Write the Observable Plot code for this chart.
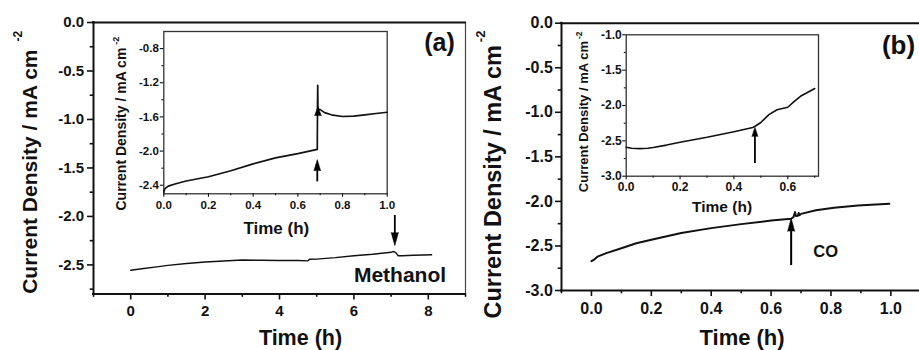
<!DOCTYPE html>
<html><head><meta charset="utf-8">
<script src="https://cdn.jsdelivr.net/npm/d3@7"></script>
<script src="https://cdn.jsdelivr.net/npm/@observablehq/plot@0.6"></script>
<style>
html,body{margin:0;padding:0;background:#fff;overflow:hidden;}
#wrap{position:relative;width:919px;height:350px;overflow:hidden;background:#fff;}
#wrap svg{position:absolute;left:0;top:0;}
</style></head><body><div id="wrap"></div>
<script>
// ---------- Panel (a): main chronoamperometry, methanol added ----------
const timeA = [0, 0.3, 0.7, 1, 1.5, 2, 2.5, 3, 3.5, 4, 4.5, 4.76, 4.81, 5, 5.5, 6, 6.5, 7, 7.05, 7.12, 7.19, 7.3, 7.6, 8.09];
const currentA = [-2.555, -2.54, -2.52, -2.505, -2.485, -2.47, -2.46, -2.45, -2.452, -2.455, -2.455, -2.458, -2.442, -2.44, -2.425, -2.405, -2.39, -2.37, -2.362, -2.37, -2.405, -2.405, -2.40, -2.395];
const xTicksA = [0, 2, 4, 6, 8];
const xMinorA = [-1, 1, 3, 5, 7, 9];
const yTicksA = [0, -0.5, -1, -1.5, -2, -2.5];
const yMinorA = [-0.25, -0.75, -1.25, -1.75, -2.25, -2.75];
const xDomainA = [-1, 9];
const yDomainA = [-2.8, 0];
const arrowA = {x: 7.1, from: -1.99, shaftEnd: -2.2, tip: -2.30};
const labelA = {text: "Methanol", x: 7.24, y: -2.68};

// ---------- Panel (a) inset ----------
const timeAInset = [0, 0.005, 0.02, 0.05, 0.1, 0.2, 0.3, 0.4, 0.5, 0.6, 0.687, 0.688, 0.689, 0.690, 0.692, 0.70, 0.72, 0.75, 0.8, 0.85, 0.9, 0.95, 1.0];
const currentAInset = [-2.48, -2.44, -2.41, -2.385, -2.35, -2.30, -2.23, -2.15, -2.08, -2.03, -1.98, -1.50, -1.23, -1.50, -1.51, -1.515, -1.55, -1.575, -1.595, -1.59, -1.575, -1.56, -1.545];
const xTicksAInset = [0, 0.2, 0.4, 0.6, 0.8, 1.0];
const xMinorAInset = [0.1, 0.3, 0.5, 0.7, 0.9];
const yTicksAInset = [-0.8, -1.2, -1.6, -2.0, -2.4];
const yMinorAInset = [-1.0, -1.4, -1.8, -2.2];
const xDomainAInset = [0, 1];
const yDomainAInset = [-2.5, -0.6];
const arrowAInset = {x: 0.687, from: -2.36, shaftEnd: -2.2, tip: -2.10};
const headAInset = {x: 0.690, tip: -1.48};

// ---------- Panel (b): main, CO added ----------
const timeB = [0, 0.01, 0.02, 0.05, 0.1, 0.15, 0.2, 0.3, 0.4, 0.5, 0.6, 0.667, 0.675, 0.68, 0.683, 0.69, 0.692, 0.695, 0.70, 0.75, 0.81, 0.89, 0.995];
const currentB = [-2.67, -2.65, -2.62, -2.58, -2.525, -2.47, -2.43, -2.355, -2.30, -2.255, -2.215, -2.195, -2.175, -2.12, -2.165, -2.16, -2.13, -2.155, -2.14, -2.10, -2.07, -2.046, -2.027];
const xTicksB = [0, 0.2, 0.4, 0.6, 0.8, 1.0];
const xMinorB = [-0.1, 0.1, 0.3, 0.5, 0.7, 0.9, 1.1];
const yTicksB = [0, -0.5, -1, -1.5, -2, -2.5, -3];
const yMinorB = [-0.25, -0.75, -1.25, -1.75, -2.25, -2.75];
const xDomainB = [-0.1, 1.1];
const yDomainB = [-3, 0];
const arrowB = {x: 0.667, from: -2.72, shaftEnd: -2.3, tip: -2.19};
const labelB = {text: "CO", x: 0.782, y: -2.626};

// ---------- Panel (b) inset ----------
const timeBInset = [0, 0.02, 0.05, 0.08, 0.1, 0.15, 0.2, 0.3, 0.4, 0.47, 0.48, 0.5, 0.53, 0.56, 0.6, 0.622, 0.647, 0.666, 0.70];
const currentBInset = [-2.59, -2.605, -2.61, -2.605, -2.595, -2.56, -2.52, -2.45, -2.37, -2.31, -2.29, -2.24, -2.13, -2.06, -2.025, -1.95, -1.87, -1.83, -1.76];
const xTicksBInset = [0, 0.2, 0.4, 0.6];
const xMinorBInset = [0.1, 0.3, 0.5, 0.7];
const yTicksBInset = [-1.0, -1.5, -2.0, -2.5, -3.0];
const yMinorBInset = [-1.25, -1.75, -2.25, -2.75];
const xDomainBInset = [0, 0.714];
const yDomainBInset = [-3, -1];
const arrowBInset = {x: 0.478, from: -2.82, shaftEnd: -2.4, tip: -2.31};

const yTitle = "Current Density / mA cm";
const ySup = "-2";
const xTitle = "Time (h)";

// ---------- helpers ----------
const FONT = "'Liberation Sans', Arial, Helvetica, sans-serif";
const INK = "#111";
const zip = (xs, ys) => xs.map((x, i) => ({x, y: ys[i]}));
const fmt1 = d => d.toFixed(1);
const blank = () => "";

function frameBase(width, m) {
  return {
    width, height: 350,
    marginLeft: m[0], marginRight: m[1], marginTop: m[2], marginBottom: m[3],
    style: {background: "transparent", fontFamily: FONT, fontWeight: "bold", maxWidth: "none", overflow: "visible", color: INK}
  };
}

function axes(o) {
  const common = {label: null, stroke: INK, fill: INK, strokeWidth: o.tw, fontWeight: "bold", fontFamily: FONT};
  return [
    Plot.axisY(o.yTicks, {...common, anchor: "left", tickSize: o.ts, tickPadding: o.ypad, fontSize: o.fs, tickFormat: fmt1}),
    Plot.axisY(o.yMinor, {...common, anchor: "left", tickSize: o.ts * 0.55, tickFormat: blank}),
    Plot.axisX(o.xTicks, {...common, anchor: "bottom", tickSize: o.ts, tickPadding: o.xpad, fontSize: o.fs, tickFormat: o.xfmt || fmt1}),
    Plot.axisX(o.xMinor, {...common, anchor: "bottom", tickSize: o.ts * 0.55, tickFormat: blank})
  ];
}

function arrow(a, up, len, r, sw) {
  return [
    Plot.ruleX([a], {x: "x", y1: "from", y2: "shaftEnd", stroke: "black", strokeWidth: sw}),
    Plot.vector([a], {x: "x", y: "tip", length: len, r, rotate: up ? 0 : 180, anchor: "end", shape: "spike", fill: "black", stroke: "black", strokeWidth: 0.6})
  ];
}

// y title with a raised "-2" superscript kept in the same text element
function addSup(svg, size, raise, gap) {
  svg.querySelectorAll("text").forEach(t => {
    if (t.textContent === yTitle) {
      const ts = document.createElementNS("http://www.w3.org/2000/svg", "tspan");
      ts.setAttribute("font-size", size);
      ts.setAttribute("dy", -raise);
      ts.setAttribute("dx", gap);
      ts.textContent = ySup;
      t.appendChild(ts);
    }
  });
}

const wrap = document.getElementById("wrap");

// ---------- Panel (a) main ----------
{
  const mL = 93, mR = 919 - 465, mT = 22, mB = 350 - 293.5;
  const p = Plot.plot({
    ...frameBase(919, [mL, mR, mT, mB]),
    x: {domain: xDomainA, label: null},
    y: {domain: yDomainA, label: null},
    marks: [
      ...axes({yTicks: yTicksA, yMinor: yMinorA, xTicks: xTicksA, xMinor: xMinorA, ts: 6, ypad: 3.5, xpad: 5.5, fs: 15, tw: 1.6, xfmt: d => String(d)}),
      Plot.ruleX([xDomainA[1]], {stroke: "#444", strokeWidth: 1.2}),
      Plot.ruleY([yDomainA[1]], {stroke: INK, strokeWidth: 2, strokeLinecap: "square"}),
      Plot.ruleY([yDomainA[0]], {stroke: INK, strokeWidth: 2, strokeLinecap: "square"}),
      Plot.ruleX([xDomainA[0]], {stroke: INK, strokeWidth: 2, strokeLinecap: "square"}),
      Plot.line(zip(timeA, currentA), {x: "x", y: "y", stroke: INK, strokeWidth: 1.4}),
      ...arrow(arrowA, false, 13, 3.6, 1.8),
      Plot.text([labelA], {x: "x", y: "y", text: "text", fontSize: 21, lineAnchor: "bottom", textAnchor: "middle", fill: INK}),
      Plot.text(["(a)"], {frameAnchor: "top-right", dx: -26, dy: 28, fontSize: 25, lineAnchor: "bottom", textAnchor: "middle", fill: INK}),
      Plot.text([xTitle], {frameAnchor: "bottom", dx: 21, dy: 50.5, fontSize: 21.5, lineAnchor: "bottom", textAnchor: "middle", fill: INK}),
      Plot.text([yTitle], {frameAnchor: "bottom-left", dx: -56.3, dy: -0.2, rotate: -90, fontSize: 21, lineAnchor: "bottom", textAnchor: "start", fill: INK})
    ]
  });
  addSup(p, 12, 15, 8);
  wrap.appendChild(p);
}

// ---------- Panel (a) inset ----------
{
  const mL = 163.3, mR = 919 - 386.7, mT = 31, mB = 350 - 193.3;
  const p = Plot.plot({
    ...frameBase(919, [mL, mR, mT, mB]),
    x: {domain: xDomainAInset, label: null},
    y: {domain: yDomainAInset, label: null},
    marks: [
      Plot.frame({stroke: "#333", strokeWidth: 1.3}),
      ...axes({yTicks: yTicksAInset, yMinor: yMinorAInset, xTicks: xTicksAInset, xMinor: xMinorAInset, ts: 3.5, ypad: 1.5, xpad: 3.5, fs: 11.5, tw: 1.1}),
      Plot.line(zip(timeAInset, currentAInset), {x: "x", y: "y", stroke: INK, strokeWidth: 1.7}),
      ...arrow(arrowAInset, true, 11, 3.3, 1.8),
      Plot.vector([headAInset], {x: "x", y: "tip", length: 9, r: 3.3, anchor: "end", shape: "spike", fill: "black", stroke: "black", strokeWidth: 0.6}),
      Plot.text([xTitle], {frameAnchor: "bottom", dx: 0.8, dy: 40, fontSize: 17, lineAnchor: "bottom", textAnchor: "middle", fill: INK}),
      Plot.text([yTitle], {frameAnchor: "bottom-left", dx: -38.3, dy: 16.7, rotate: -90, fontSize: 14, lineAnchor: "bottom", textAnchor: "start", fill: INK})
    ]
  });
  addSup(p, 9, 7, 3);
  wrap.appendChild(p);
}

// ---------- Panel (b) main ----------
{
  const mL = 561, mR = 0.7, mT = 22.7, mB = 60;
  const p = Plot.plot({
    ...frameBase(921, [mL, mR, mT, mB]),
    x: {domain: xDomainB, label: null},
    y: {domain: yDomainB, label: null},
    marks: [
      ...axes({yTicks: yTicksB, yMinor: yMinorB, xTicks: xTicksB, xMinor: xMinorB, ts: 6, ypad: 2.7, xpad: 5.7, fs: 16, tw: 1.6}),
      Plot.ruleY([yDomainB[1]], {stroke: INK, strokeWidth: 2, strokeLinecap: "square"}),
      Plot.ruleY([yDomainB[0]], {stroke: INK, strokeWidth: 2, strokeLinecap: "square"}),
      Plot.ruleX([xDomainB[0]], {stroke: INK, strokeWidth: 2, strokeLinecap: "square"}),
      Plot.line(zip(timeB, currentB), {x: "x", y: "y", stroke: INK, strokeWidth: 2}),
      ...arrow(arrowB, true, 13, 3.5, 2),
      Plot.text([labelB], {x: "x", y: "y", text: "text", fontSize: 16.5, lineAnchor: "bottom", textAnchor: "middle", fill: INK}),
      Plot.text(["(b)"], {frameAnchor: "top-left", dx: 337, dy: 30.8, fontSize: 26, lineAnchor: "bottom", textAnchor: "middle", fill: INK}),
      Plot.text([xTitle], {frameAnchor: "bottom", dx: 0.9, dy: 54.5, fontSize: 22, lineAnchor: "bottom", textAnchor: "middle", fill: INK}),
      Plot.text([yTitle], {frameAnchor: "bottom-left", dx: -60.3, dy: 28, rotate: -90, fontSize: 23.5, lineAnchor: "bottom", textAnchor: "start", fill: INK})
    ]
  });
  addSup(p, 13, 16, 3);
  wrap.appendChild(p);
}

// ---------- Panel (b) inset ----------
{
  const mL = 625.7, mR = 919 - 818, mT = 34.3, mB = 350 - 175.7;
  const p = Plot.plot({
    ...frameBase(919, [mL, mR, mT, mB]),
    x: {domain: xDomainBInset, label: null},
    y: {domain: yDomainBInset, label: null},
    marks: [
      Plot.frame({stroke: "#333", strokeWidth: 1.3}),
      ...axes({yTicks: yTicksBInset, yMinor: yMinorBInset, xTicks: xTicksBInset, xMinor: xMinorBInset, ts: 3.5, ypad: 1, xpad: 3, fs: 12, tw: 1.1}),
      Plot.line(zip(timeBInset, currentBInset), {x: "x", y: "y", stroke: INK, strokeWidth: 1.6}),
      ...arrow(arrowBInset, true, 9, 3, 1.8),
      Plot.text([xTitle], {frameAnchor: "bottom", dx: -0.3, dy: 36, fontSize: 15.5, lineAnchor: "bottom", textAnchor: "middle", fill: INK}),
      Plot.text([yTitle], {frameAnchor: "bottom-left", dx: -38.7, dy: 16, rotate: -90, fontSize: 13, lineAnchor: "bottom", textAnchor: "start", fill: INK})
    ]
  });
  addSup(p, 8.5, 6, 2);
  wrap.appendChild(p);
}
</script>
</body></html>
